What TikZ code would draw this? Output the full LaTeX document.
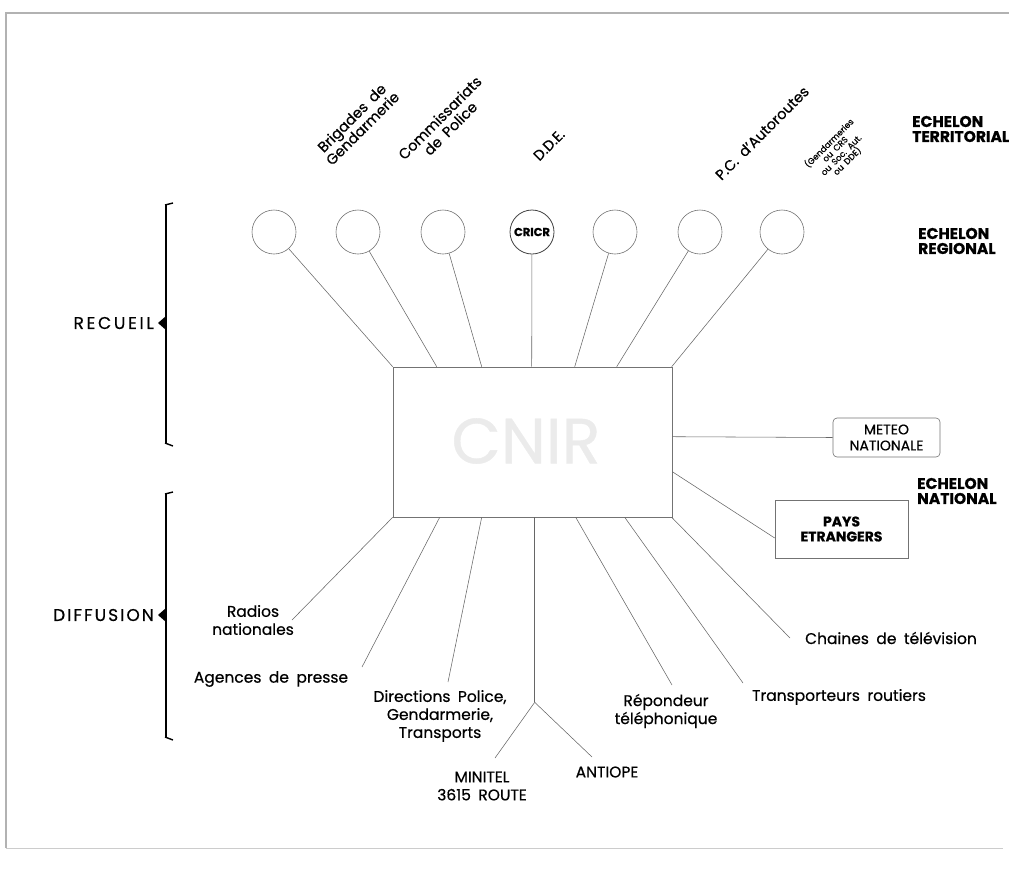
\documentclass[tikz,border=0pt]{standalone}
\usepackage{fontspec}
\setmainfont{Poppins}[WordSpace=1.8, FakeBold=0.6]
\usetikzlibrary{calc}
\begin{document}
\begin{tikzpicture}[x=1pt,y=-1pt,
  lnk/.style={draw=black!60, line width=0.55pt},
  circ/.style={circle, draw=black!55, line width=0.6pt, minimum size=44pt, inner sep=0pt},
  lbl/.style={font=\fontsize{15.5}{18}\selectfont, align=center, inner sep=0pt},
  rlbl/.style={rotate=45, font=\fontsize{14.5}{15}\selectfont, align=center, inner sep=0pt},
  ech/.style={font=\bfseries\fontsize{15.5}{15}\selectfont, align=left, inner sep=0pt, anchor=west},
  bx/.style={draw=black!55, line width=0.6pt, inner sep=0pt},
  brk/.style={line width=2.6pt, black},
  frame/.style={draw=black!30, line width=2pt}
]
\useasboundingbox (0,0) rectangle (1009,876);
% frame
\draw[frame] (6,848) -- (6,13) -- (1009,13);
\draw[draw=black!20, line width=1pt] (6,848) -- (1003,848);

% central box
\node[bx, minimum width=279pt, minimum height=150pt] (cnir) at (532.5,442) {};
\node[font=\fontsize{64}{64}\selectfont, text=black!8] (cnirt) at (526,441) {CNIR};

% circles
\node[circ] (c1) at (274,232) {};
\node[circ] (c2) at (358,232) {};
\node[circ] (c3) at (443,232) {};
\node[circ, draw=black!75, line width=0.8pt, font=\bfseries\fontsize{11.5}{11}\selectfont] (c4) at (532,232) {CRICR};
\node[circ] (c5) at (615,232) {};
\node[circ] (c6) at (700,232) {};
\node[circ] (c7) at (782,232) {};

% top attachment points
\coordinate (t1) at ($(cnir.north west)+(0,0)$);
\coordinate (t2) at ($(cnir.north west)+(44,0)$);
\coordinate (t3) at ($(cnir.north west)+(89,0)$);
\coordinate (t4) at ($(cnir.north west)+(139,0)$);
\coordinate (t5) at ($(cnir.north west)+(182,0)$);
\coordinate (t6) at ($(cnir.north west)+(224,0)$);
\coordinate (t7) at ($(cnir.north west)+(279,0)$);
\foreach \i in {1,...,7} { \draw[lnk] (c\i) -- (t\i); }

% rotated labels
\node[rlbl] (l1) at (357,123) {Brigades de\\Gendarmerie};
\node[rlbl] (l2) at (445,123) {Commissariats\\de Police};
\node[rlbl] (l3) at (549,145) {D.D.E.};
\node[rlbl] (l5) at (762,133) {P.C. d'Autoroutes};
\node[rlbl, font=\fontsize{8.5}{8.5}\selectfont] (l7) at (838,152) {(Gendarmeries\\ou CRS\\ou Soc. Aut.\\ou DDE)};

% echelons
\node[ech] (et) at (912,129) {ECHELON\\TERRITORIAL};
\node[ech] (er) at (918,241) {ECHELON\\REGIONAL};
\node[ech] (en) at (917,491) {ECHELON\\NATIONAL};

% right boxes
\node[bx, rounded corners=4pt, minimum width=107pt, minimum height=39pt, lbl, font=\fontsize{14}{16}\selectfont] (meteo) at (886.5,437.5) {METEO\\NATIONALE};
\node[bx, minimum width=133pt, minimum height=58pt, font=\bfseries\fontsize{14}{15}\selectfont, align=center] (pays) at (841.5,529) {PAYS\\ETRANGERS};
\coordinate (rm) at ($(cnir.north east)+(0,70)$);
\coordinate (rp) at ($(cnir.north east)+(0,105)$);
\draw[lnk] (rm) -- (meteo.west);
\draw[lnk] (rp) -- ($(pays.west)+(0,9)$);

% bottom attachment points
\coordinate (b1) at ($(cnir.south west)+(0,0)$);
\coordinate (b2) at ($(cnir.south west)+(47,0)$);
\coordinate (b3) at ($(cnir.south west)+(89,0)$);
\coordinate (b4) at ($(cnir.south west)+(142,0)$);
\coordinate (b5) at ($(cnir.south west)+(183,0)$);
\coordinate (b6) at ($(cnir.south west)+(232,0)$);
\coordinate (b7) at ($(cnir.south west)+(279,0)$);

% bottom labels
\node[lbl] (radios) at (253,620) {Radios\\nationales};
\node[lbl] (agences) at (271,679) {Agences de presse};
\node[lbl] (dirs) at (440,716) {Directions Police,\\Gendarmerie,\\Transports};
\node[lbl] (minitel) at (482,786) {MINITEL\\3615 ROUTE};
\node[lbl] (antiope) at (607,772) {ANTIOPE};
\node[lbl] (repond) at (666,711) {Répondeur\\téléphonique};
\node[lbl] (transp) at (839,697) {Transporteurs routiers};
\node[lbl] (chaines) at (891,638) {Chaines de télévision};

\coordinate (e1) at (292,620);
\coordinate (e2) at (362,667);
\coordinate (e3) at (448,682);
\coordinate (split) at ($(b4)+(0,185)$);
\coordinate (em) at (495,758);
\coordinate (ea) at (592,757);
\coordinate (e5) at (672,685);
\coordinate (e6) at (743,683);
\coordinate (e7) at (790,638);
\draw[lnk] (b1) -- (e1);
\draw[lnk] (b2) -- (e2);
\draw[lnk] (b3) -- (e3);
\draw[lnk] (b4) -- (split);
\draw[lnk] (split) -- (em);
\draw[lnk] (split) -- (ea);
\draw[lnk] (b5) -- (e5);
\draw[lnk] (b6) -- (e6);
\draw[lnk] (b7) -- (e7);

% brackets
\draw[brk] (166,205) -- (166,443);
\draw[line width=1.4pt] (165,205) -- (173,203);
\draw[line width=1.4pt] (165,443) -- (173,446);
\fill (158,323) -- (166,316) -- (166,330) -- cycle;
\draw[brk] (166,494) -- (166,737);
\draw[line width=1.4pt] (165,494) -- (173,492);
\draw[line width=1.4pt] (165,737) -- (173,740);
\fill (158,615) -- (166,608) -- (166,622) -- cycle;
\node[lbl, anchor=east, font=\addfontfeatures{LetterSpace=16}\fontsize{17}{16}\selectfont] (recueil) at (154,323) {RECUEIL};
\node[lbl, anchor=east, font=\addfontfeatures{LetterSpace=12}\fontsize{17}{16}\selectfont] (diff) at (154,615) {DIFFUSION};
\end{tikzpicture}
\end{document}
